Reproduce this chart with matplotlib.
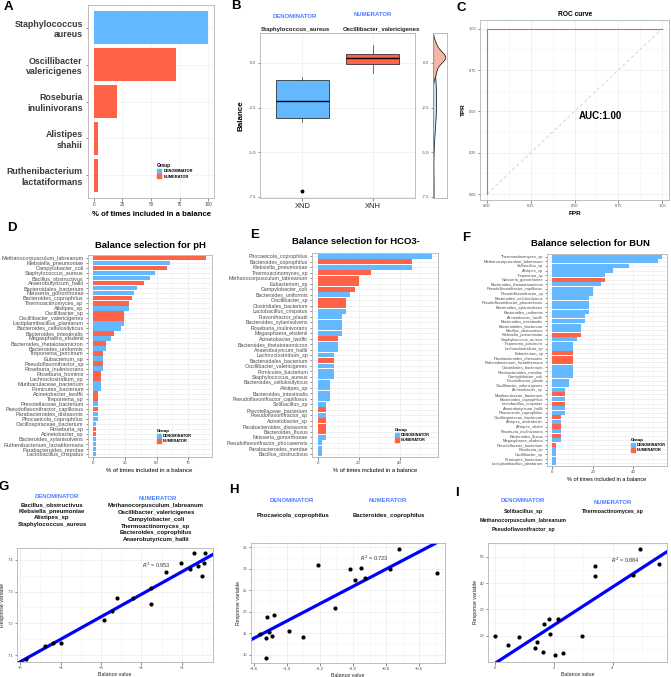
import numpy as np
import matplotlib
matplotlib.use('Agg')
import matplotlib.pyplot as plt
from matplotlib.patches import Patch
from matplotlib.ticker import MultipleLocator

plt.rcParams['font.family'] = ['Liberation Sans', 'DejaVu Sans']

W, H = 671, 677
BLUE = '#63B8FF'
RED = '#FF6347'
HEAD = '#4C7DFF'
GRID = '#EBEBEB'

# ---------------- data ----------------
# A: balance selection for the classification
a_names = ['Staphylococcus\naureus', 'Oscillibacter\nvalericigenes', 'Roseburia\ninulinivorans',
           'Alistipes\nshahii', 'Ruthenibacterium\nlactatiformans']
a_values = [100, 72, 20, 4, 4]
a_groups = ['D', 'N', 'N', 'N', 'N']

# B: boxplot stats
b_labels = ['XND', 'XNH']
b_med = [-2.14, 0.30]
b_q1 = [-3.08, -0.03]
b_q3 = [-0.93, 0.49]
b_lo = [-3.33, -0.56]
b_hi = [-0.78, 1.03]
b_out = [[-7.16], []]
# sample values used for the side density
xnd_samples = [-7.16, -3.33, -3.08, -2.6, -2.14, -1.6, -0.93, -0.78]
xnh_samples = [-0.56, -0.03, 0.15, 0.30, 0.35, 0.49, 0.55, 1.03]

# C: ROC
roc_fpr = [0, 0, 1]
roc_tpr = [0, 1, 1]

# D: pH
ph_names = ['Methanocorpusculum_labreanum', 'Klebsiella_pneumoniae', 'Campylobacter_coli',
            'Staphylococcus_aureus', 'Bacillus_obstructivus', 'Anaerobutyricum_hallii',
            'Bacteroidales_bacterium', 'Neisseria_gonorrhoeae', 'Bacteroides_coprophilus',
            'Thermoactinomyces_sp', 'Alistipes_sp', 'Oscillibacter_sp', 'Oscillibacter_valericigenes',
            'Lactiplantibacillus_plantarum', 'Bacteroides_cellulosilyticus', 'Bacteroides_intestinalis',
            'Megasphaera_elsdenii', 'Bacteroides_thetaiotaomicron', 'Bacteroides_uniformis',
            'Treponema_porcinum', 'Eubacterium_sp', 'Pseudoflavonifractor_sp', 'Roseburia_inulinivorans',
            'Roseburia_hominis', 'Lachnoclostridium_sp', 'Muribaculaceae_bacterium', 'Firmicutes_bacterium',
            'Acinetobacter_lwoffii', 'Treponema_sp', 'Prevotellaceae_bacterium',
            'Pseudoflavonifractor_capillosus', 'Parabacteroides_distasonis', 'Phocaeicola_coprophilus',
            'Oscillospiraceae_bacterium', 'Roseburia_sp', 'Acinetobacter_sp', 'Bacteroides_xylanisolvens',
            'Ruthenibacterium_lactatiformans', 'Parabacteroides_merdae', 'Lactobacillus_crispatus']
ph_values = [89, 60.5, 58.5, 48.5, 44.5, 40.5, 34.5, 32, 30.5, 28.5, 28.5, 24, 24, 24, 22, 16.5, 14,
             10, 10, 8, 8, 8, 8, 6, 6, 6, 6, 4, 4, 4, 4, 4, 4, 2, 2, 2, 2, 2, 2, 2]
ph_groups = list('NDNDDNDDNNDNNDDNDNDNDNDNNDDNNDNDDDNNDDDD')

# E: HCO3-
hco_names = ['Phocaeicola_coprophilus', 'Bacteroides_coprophilus', 'Klebsiella_pneumoniae',
             'Thermoactinomyces_sp', 'Methanocorpusculum_labreanum', 'Eubacterium_sp', 'Campylobacter_coli',
             'Bacteroides_uniformis', 'Oscillibacter_sp', 'Clostridiales_bacterium', 'Lactobacillus_crispatus',
             'Flavonifractor_plautii', 'Bacteroides_xylanisolvens', 'Roseburia_inulinivorans',
             'Megasphaera_elsdenii', 'Acinetobacter_lwoffii', 'Bacteroides_thetaiotaomicron',
             'Anaerobutyricum_hallii', 'Lachnoclostridium_sp', 'Bacteroidales_bacterium',
             'Oscillibacter_valericigenes', 'Firmicutes_bacterium', 'Staphylococcus_aureus',
             'Bacteroides_cellulosilyticus', 'Alistipes_sp', 'Bacteroides_intestinalis',
             'Pseudoflavonifractor_capillosus', 'Solibacillus_sp', 'Prevotellaceae_bacterium',
             'Pseudoflavonifractor_sp', 'Acinetobacter_sp', 'Parabacteroides_distasonis', 'Bacteroides_fluxus',
             'Neisseria_gonorrhoeae', 'Pseudoflavonifractor_phocaeensis', 'Parabacteroides_merdae',
             'Bacillus_obstructivus']
hco_values = [56, 46, 46, 26, 20, 20, 18, 16, 14, 14, 14, 12, 12, 12, 12, 10, 10, 10, 8, 8, 8, 8, 8,
              6, 6, 6, 6, 4, 4, 4, 4, 4, 4, 4, 2, 2, 2]
hco_groups = list('DNDNNNNDNNDDDDDNDDDNDDDDDDDDNDNNNDDDD')

# F: BUN
bun_names = ['Thermoactinomyces_sp', 'Methanocorpusculum_labreanum', 'Solibacillus_sp', 'Alistipes_sp',
             'Treponema_sp', 'Neisseria_gonorrhoeae', 'Bacteroides_thetaiotaomicron',
             'Pseudoflavonifractor_capillosus', 'Pseudoflavonifractor_sp', 'Bacteroides_cellulosilyticus',
             'Pseudoflavonifractor_phocaeensis', 'Bacteroides_xylanisolvens', 'Bacteroides_uniformis',
             'Acinetobacter_lwoffii', 'Bacteroides_intestinalis', 'Bacteroidales_bacterium',
             'Bacillus_obstructivus', 'Klebsiella_pneumoniae', 'Staphylococcus_aureus', 'Treponema_porcinum',
             'Lachnoclostridium_sp', 'Eubacterium_sp', 'Parabacteroides_distasonis',
             'Ruthenibacterium_lactatiformans', 'Clostridiales_bacterium', 'Parabacteroides_merdae',
             'Campylobacter_coli', 'Flavonifractor_plautii', 'Oscillibacter_valericigenes', 'Acinetobacter_sp',
             'Muribaculaceae_bacterium', 'Bacteroides_coprophilus', 'Lactobacillus_crispatus',
             'Anaerobutyricum_hallii', 'Phocaeicola_coprophilus', 'Oscillospiraceae_bacterium',
             'Alistipes_onderdonkii', 'Alistipes_shahii', 'Roseburia_inulinivorans', 'Bacteroides_fluxus',
             'Megasphaera_elsdenii', 'Prevotellaceae_bacterium', 'Roseburia_sp', 'Oscillibacter_sp',
             'Firmicutes_bacterium', 'Lactiplantibacillus_plantarum']
bun_values = [54, 52, 38, 30, 26, 26, 24, 20, 20, 18, 18, 18, 18, 16, 16, 14, 14, 14, 12, 10, 10, 10,
              10, 10, 10, 10, 10, 8, 8, 6, 6, 6, 6, 6, 6, 4, 4, 4, 4, 4, 4, 2, 2, 2, 2, 2]
bun_groups = list('DDDDDNDDDDDDDDDDDNDDDNNNDDDDDDNDNDDNDNDNDNDDDD')

# G, H, I: balance value vs response
g_x = [-4.85, -4.38, -4.20, -3.98, -2.92, -2.72, -2.60, -2.22, -1.77, -1.77, -1.40, -1.02, -0.80,
       -0.69, -0.60, -0.49, -0.46, -0.43]
g_y = [7.087, 7.129, 7.139, 7.139, 7.21, 7.239, 7.279, 7.279, 7.26, 7.31, 7.36, 7.39, 7.37,
       7.42, 7.38, 7.35, 7.39, 7.42]
h_x = [-1.56, -1.527, -1.527, -1.52, -1.505, -1.487, -1.48, -1.385, -1.30, -1.21, -1.107, -1.02,
       -0.988, -0.95, -0.927, -0.776, -0.724, -0.494]
h_y = [14.85, 9.3, 13.76, 18.76, 15.2, 14.4, 19.2, 15.5, 14.2, 30.9, 20.8, 29.8, 27.3, 30.2, 27.7,
       29.8, 34.6, 28.9]
i_x = [0.0, 0.45, 0.83, 1.36, 1.43, 1.64, 1.67, 1.84, 1.89, 2.06, 2.15, 2.32, 2.95, 3.39, 3.42,
       4.69, 4.92, 5.57]
i_y = [19.9, 16.6, 19.5, 15.2, 17.7, 13.7, 24.5, 26.3, 20.8, 12.5, 26.2, 13.3, 20.0, 42.8, 46.6,
       43.0, 53.2, 47.2]
r2_text = ['0.953', '0.723', '0.884']

g_den = ['Bacillus_obstructivus', 'Klebsiella_pneumoniae', 'Alistipes_sp', 'Staphylococcus_aureus']
g_num = ['Methanocorpusculum_labreanum', 'Oscillibacter_valericigenes', 'Campylobacter_coli',
         'Thermoactinomyces_sp', 'Bacteroides_coprophilus', 'Anaerobutyricum_hallii']
h_den = ['Phocaeicola_coprophilus']
h_num = ['Bacteroides_coprophilus']
i_den = ['Solibacillus_sp', 'Methanocorpusculum_labreanum', 'Pseudoflavonifractor_sp']
i_num = ['Thermoactinomyces_sp']

# ---------------- helpers ----------------
fig = plt.figure(figsize=(W / 100, H / 100), dpi=100)


def px(l, t, r, b):
    return [l / W, 1 - b / H, (r - l) / W, (b - t) / H]


def ftext(x, y, s, **kw):
    kw.setdefault('ha', 'center')
    kw.setdefault('va', 'center')
    fig.text(x / W, 1 - y / H, s, **kw)


def style(ax, size=3.2):
    for sp in ax.spines.values():
        sp.set_color('#B3B3B3')
        sp.set_linewidth(0.6)
    ax.tick_params(which='major', length=1.8, width=0.4, color='#333333', labelsize=size,
                   labelcolor='#4D4D4D', pad=1)
    ax.tick_params(which='minor', length=0)
    ax.set_axisbelow(True)


def legend(ax, x, y, fs):
    hs = [Patch(color=BLUE, label='DENOMINATOR'), Patch(color=RED, label='NUMERATOR')]
    leg = ax.legend(handles=hs, title='Group', loc='upper left', bbox_to_anchor=(x / W, 1 - y / H),
                    bbox_transform=fig.transFigure, frameon=False, handlelength=1.1, handleheight=1.1,
                    labelspacing=0.25, borderpad=0, handletextpad=0.5,
                    prop={'size': fs, 'weight': 'bold'}, title_fontproperties={'size': fs + 0.4, 'weight': 'bold'})
    leg._legend_box.align = 'left'


def bar_panel(rect, names, values, groups, xlim, xticks, minor, lab=4.0, xl=4.2):
    ax = fig.add_axes(px(*rect))
    pos = np.arange(len(names))
    cols = [BLUE if g == 'D' else RED for g in groups]
    ax.barh(pos, values, height=0.9, color=cols, zorder=2)
    ax.set_yticks(pos)
    ax.set_yticklabels(names)
    ax.set_ylim(len(names) - 0.4, -0.6)
    ax.set_xlim(*xlim)
    ax.set_xticks(xticks)
    ax.xaxis.set_minor_locator(MultipleLocator(minor))
    style(ax, 3.2)
    ax.tick_params(axis='y', labelsize=lab)
    ax.grid(True, which='major', color=GRID, lw=0.5)
    ax.grid(True, which='minor', axis='x', color='#F4F4F4', lw=0.4)
    ax.set_xlabel('% of times included in a balance', fontsize=xl, labelpad=2)
    return ax


def scatter_panel(rect, x, y, xlim, ylim, xticks, yticks, r2, r2pos):
    ax = fig.add_axes(px(*rect))
    ax.scatter(x, y, s=9, color='black', zorder=3, linewidths=0)
    k, c = np.polyfit(x, y, 1)
    ax.axline((0, c), slope=k, color='#0000FF', lw=2.3, zorder=2)
    ax.set_xlim(*xlim)
    ax.set_ylim(*ylim)
    ax.set_xticks(xticks)
    ax.set_yticks(yticks)
    ax.xaxis.set_minor_locator(MultipleLocator((xticks[1] - xticks[0]) / 2))
    ax.yaxis.set_minor_locator(MultipleLocator((yticks[1] - yticks[0]) / 2))
    style(ax, 3.0)
    ax.grid(True, which='major', color=GRID, lw=0.5)
    ax.grid(True, which='minor', color='#F4F4F4', lw=0.4)
    ax.set_xlabel('Balance value', fontsize=3.8, labelpad=1.5, color='#222222')
    ax.set_ylabel('Response variable', fontsize=3.8, labelpad=1.5, color='#222222')
    ax.text(r2pos[0], r2pos[1], '$R^2$ = ' + r2, fontsize=4.0, color='#333333', ha='center', va='center')
    return ax


# ---------------- A ----------------
axA = fig.add_axes(px(88, 5, 214, 198))
pos = np.arange(len(a_names))
axA.barh(pos, a_values, height=0.9, color=[BLUE if g == 'D' else RED for g in a_groups], zorder=2)
axA.set_yticks(pos)
axA.set_yticklabels(a_names, fontsize=6.4, fontweight='bold', color='#3A3A3A')
axA.set_ylim(len(a_names) - 0.38, -0.62)
axA.set_xlim(-5, 105)
axA.set_xticks([0, 25, 50, 75, 100])
style(axA, 3.4)
axA.tick_params(axis='y', labelsize=6.4, labelcolor='#3A3A3A', pad=2)
axA.grid(True, color='#F2F2F2', lw=0.5)
axA.set_xlabel('% of times included in a balance', fontsize=5.6, fontweight='bold', labelpad=3)
legend(axA, 155, 161, 2.9)

# ---------------- B ----------------
axB = fig.add_axes(px(260, 33, 415, 198))
stats = [dict(med=b_med[i], q1=b_q1[i], q3=b_q3[i], whislo=b_lo[i], whishi=b_hi[i],
              fliers=b_out[i], label=b_labels[i]) for i in range(2)]
bp = axB.bxp(stats, positions=[1, 2], widths=0.75, patch_artist=True, showcaps=False,
             boxprops=dict(lw=0.6, edgecolor='#333333'), medianprops=dict(color='black', lw=1.0),
             whiskerprops=dict(lw=0.5, color='#333333'),
             flierprops=dict(marker='o', markersize=1.8, markerfacecolor='black', markeredgecolor='black'))
for patch, col in zip(bp['boxes'], [BLUE, RED]):
    patch.set_facecolor(col)
axB.set_xlim(0.4, 2.6)
axB.set_ylim(-7.57, 1.68)
axB.set_yticks([0.0, -2.5, -5.0, -7.5])
axB.set_yticklabels(['0.0', '-2.5', '-5.0', '-7.5'])
style(axB, 3.2)
axB.tick_params(axis='x', labelsize=5.4, labelcolor='#222222', pad=2)
axB.grid(True, color=GRID, lw=0.5)
axB.set_ylabel('Balance', fontsize=5.8, fontweight='bold', labelpad=3)

axBd = fig.add_axes(px(433, 33, 447, 198))
grid_y = np.linspace(-7.57, 1.68, 400)


def kde(samples, grid):
    s = np.asarray(samples)
    bw = 0.9 * s.std(ddof=1) * len(s) ** -0.2
    d = np.exp(-0.5 * ((grid[:, None] - s[None, :]) / bw) ** 2).sum(axis=1)
    return d / (len(s) * bw * np.sqrt(2 * np.pi))


d_nd = kde(xnd_samples, grid_y)
d_nh = kde(xnh_samples, grid_y)
axBd.fill_betweenx(grid_y, 0, d_nd, color='#BFE3FA', ec='black', lw=0.5)
axBd.fill_betweenx(grid_y, 0, d_nh, color='#F7B1A3', ec='black', lw=0.5, alpha=0.95)
axBd.set_ylim(-7.57, 1.68)
axBd.set_xlim(0, max(d_nh.max(), d_nd.max()) * 1.15)
axBd.set_xticks([])
axBd.set_yticks([0.0, -2.5, -5.0, -7.5])
axBd.set_yticklabels(['0.0', '-2.5', '-5.0', '-7.5'])
style(axBd, 3.2)

ftext(295, 17, 'DENOMINATOR', fontsize=4.3, fontweight='bold', color=HEAD)
ftext(295, 29, 'Staphylococcus_aureus', fontsize=4.3, fontweight='bold', color='#222222')
ftext(373, 15, 'NUMERATOR', fontsize=4.3, fontweight='bold', color=HEAD)
ftext(381, 29, 'Oscillibacter_valericigenes', fontsize=4.3, fontweight='bold', color='#222222')

# ---------------- C ----------------
axC = fig.add_axes(px(480, 20, 669, 200))
axC.plot([0, 1], [0, 1], ls=(0, (4, 3)), color='#CFCFCF', lw=0.6)
axC.plot(roc_fpr, roc_tpr, color='#F55B5B', lw=0.8)
axC.set_xlim(-0.04, 1.04)
axC.set_ylim(-0.036, 1.053)
ticks = [0, 0.25, 0.5, 0.75, 1.0]
axC.set_xticks(ticks)
axC.set_yticks(ticks)
axC.set_xticklabels(['0.00', '0.25', '0.50', '0.75', '1.00'])
axC.set_yticklabels(['0.00', '0.25', '0.50', '0.75', '1.00'])
axC.xaxis.set_minor_locator(MultipleLocator(0.125))
axC.yaxis.set_minor_locator(MultipleLocator(0.125))
style(axC, 2.8)
axC.grid(True, which='major', color=GRID, lw=0.5)
axC.grid(True, which='minor', color='#F4F4F4', lw=0.4)
axC.set_xlabel('FPR', fontsize=4.6, fontweight='bold', labelpad=2)
axC.set_ylabel('TPR', fontsize=4.6, fontweight='bold', labelpad=2)
axC.text(0.65, 0.47, 'AUC:1.00', fontsize=7, fontweight='bold', ha='center', va='center')
ftext(575, 14, 'ROC curve', fontsize=4.8, fontweight='bold')

# ---------------- D, E, F ----------------
axD = bar_panel((87.5, 255, 211.5, 457), ph_names, ph_values, ph_groups, (-4.45, 93.4), [0, 25, 50, 75], 12.5,
                lab=4.0, xl=4.3)
legend(axD, 155, 427, 2.8)
ftext(150, 245, 'Balance selection for pH', fontsize=6.8, fontweight='bold')

axE = bar_panel((312, 253, 438, 457), hco_names, hco_values, hco_groups, (-2.8, 58.8), [0, 20, 40], 10,
                lab=3.8, xl=4.2)
legend(axE, 393, 426, 2.8)
ftext(356, 242, 'Balance selection for HCO3-', fontsize=6.8, fontweight='bold')

axF = bar_panel((547, 254, 667, 466), bun_names, bun_values, bun_groups, (-2.7, 56.7), [0, 20, 40], 10,
                lab=2.9, xl=4.0)
legend(axF, 629, 436, 2.8)
ftext(590, 243, 'Balance selection for BUN', fontsize=6.8, fontweight='bold')

# ---------------- G, H, I ----------------
scatter_panel((17, 548, 213, 662), g_x, g_y, (-5.08, -0.23), (7.078, 7.437), [-5, -4, -3, -2, -1],
              [7.1, 7.2, 7.3, 7.4], r2_text[0], (-1.62, 7.383))
scatter_panel((251, 543, 445, 663), h_x, h_y, (-1.616, -0.444), (8.07, 35.93),
              [-1.6, -1.4, -1.2, -1.0, -0.8, -0.6], [10, 15, 20, 25, 30, 35], r2_text[1], (-0.87, 32.3))
scatter_panel((488, 543, 667, 662), i_x, i_y, (-0.227, 5.85), (9.96, 55.3), [0, 2, 4],
              [20, 30, 40, 50], r2_text[2], (4.43, 48.8))

ftext(57, 497, 'DENOMINATOR', fontsize=4.3, fontweight='bold', color=HEAD)
for k, name in enumerate(g_den):
    ftext(52, 505 + k * 6.5, name, fontsize=4.3, fontweight='bold', color='#111111')
ftext(158, 499, 'NUMERATOR', fontsize=4.3, fontweight='bold', color=HEAD)
for k, name in enumerate(g_num):
    ftext(156, 506 + k * 6.7, name, fontsize=4.3, fontweight='bold', color='#111111')

ftext(292, 501, 'DENOMINATOR', fontsize=4.3, fontweight='bold', color=HEAD)
ftext(293, 515, h_den[0], fontsize=4.3, fontweight='bold', color='#111111')
ftext(388, 501, 'NUMERATOR', fontsize=4.3, fontweight='bold', color=HEAD)
ftext(389, 515, h_num[0], fontsize=4.3, fontweight='bold', color='#111111')

ftext(523, 501, 'DENOMINATOR', fontsize=4.3, fontweight='bold', color=HEAD)
for k, name in enumerate(i_den):
    ftext(523, 511 + k * 9.2, name, fontsize=3.9, fontweight='bold', color='#111111')
ftext(613, 502, 'NUMERATOR', fontsize=4.3, fontweight='bold', color=HEAD)
ftext(613, 512, i_num[0], fontsize=3.9, fontweight='bold', color='#111111')

# ---------------- panel letters ----------------
for letter, x, y in [('A', 8, 7), ('B', 236, 6), ('C', 461, 8), ('D', 12, 228), ('E', 255, 235),
                     ('F', 466, 238), ('G', 4, 487), ('H', 234, 490), ('I', 457, 493)]:
    ftext(x, y, letter, fontsize=9.5, fontweight='bold')

fig.savefig('out.png', dpi=100)
